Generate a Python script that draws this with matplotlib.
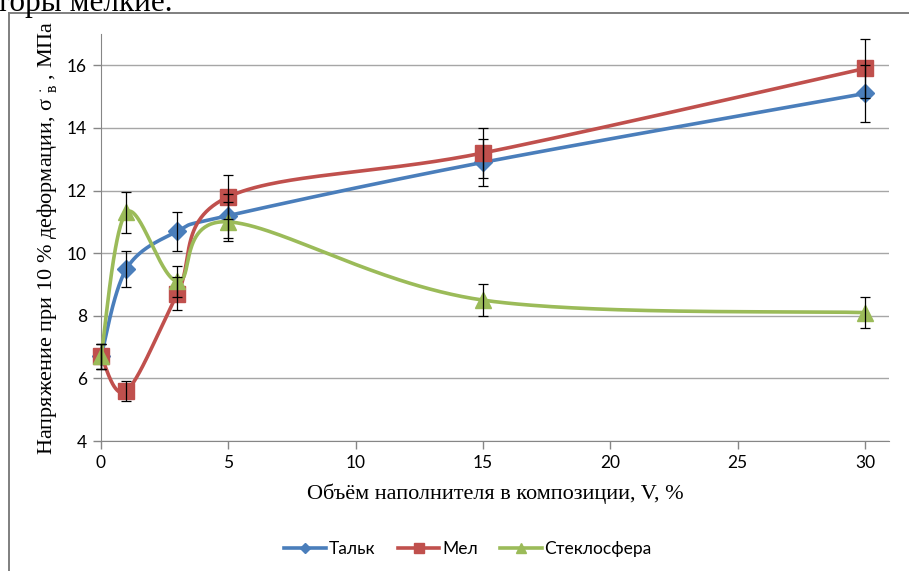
import numpy as np
import matplotlib
matplotlib.use("Agg")
import matplotlib.pyplot as plt
from matplotlib.lines import Line2D

plt.rcParams['mathtext.fontset'] = 'custom'
plt.rcParams['mathtext.rm'] = 'Liberation Serif'
plt.rcParams['mathtext.it'] = 'Liberation Serif'

# Filler content V, % and stress at 10 % strain, MPa
volume = [0, 1, 3, 5, 15, 30]

talc = [6.7, 9.5, 10.7, 11.2, 12.9, 15.1]
talc_err = [0.4, 0.58, 0.63, 0.7, 0.75, 0.9]

chalk = [6.7, 5.6, 8.7, 11.8, 13.2, 15.9]
chalk_err = [0.4, 0.32, 0.53, 0.7, 0.8, 0.95]

glass = [6.7, 11.3, 9.1, 11.0, 8.5, 8.1]
glass_err = [0.4, 0.66, 0.5, 0.62, 0.5, 0.5]

names = ["Тальк", "Мел", "Стеклосфера"]
colors = ["#4A7EBB", "#C0504D", "#9BBB59"]
markers = ["D", "s", "^"]
msizes = [9, 11, 12]

x_ticks = [0, 5, 10, 15, 20, 25, 30]
y_ticks = [4, 6, 8, 10, 12, 14, 16]

W, H = 909, 571
fig = plt.figure(figsize=(W / 100, H / 100), dpi=100)

# page fragment and chart frame
fig.text(-0.004, 1 - 11 / H, "торы мелкие.", fontsize=22.5, family="Liberation Serif",
         ha="left", va="baseline", color="black")
frame_col = "#7f7f7f"
fig.add_artist(Line2D([9 / W, 9 / W], [0, 1 - 13 / H], color=frame_col, lw=1.4,
                      transform=fig.transFigure))
fig.add_artist(Line2D([9 / W, 1], [1 - 13 / H, 1 - 13 / H], color=frame_col, lw=1.4,
                      transform=fig.transFigure))

ax = fig.add_axes([101 / W, 1 - 441 / H, (889 - 101) / W, (441 - 34) / H])
ax.set_xlim(0, 30.94)
ax.set_ylim(4, 17)
fig.canvas.draw()


def smooth(xs, ys, n=60):
    """Excel-style smoothed line: Catmull-Rom Bezier segments in display space."""
    pts = ax.transData.transform(np.column_stack([xs, ys]))
    p = np.vstack([pts[0], pts, pts[-1]])
    out = []
    t = np.linspace(0, 1, n)[:, None]
    for i in range(1, len(p) - 2):
        p0, p1, p2, p3 = p[i - 1], p[i], p[i + 1], p[i + 2]
        c1 = p1 + (p2 - p0) / 6
        c2 = p2 - (p3 - p1) / 6
        seg = ((1 - t) ** 3) * p1 + 3 * ((1 - t) ** 2) * t * c1 + 3 * (1 - t) * t ** 2 * c2 + t ** 3 * p2
        out.append(seg if i == 1 else seg[1:])
    out = np.vstack(out)
    d = ax.transData.inverted().transform(out)
    return d[:, 0], d[:, 1]


series = [(talc, talc_err), (chalk, chalk_err), (glass, glass_err)]
for k, (vals, errs) in enumerate(series):
    sx, sy = smooth(volume, vals)
    ax.plot(sx, sy, color=colors[k], lw=2.6, solid_capstyle="round", zorder=3 + k,
            clip_on=False)
    ax.plot(volume, vals, ls="none", marker=markers[k], ms=msizes[k], color=colors[k],
            mec=colors[k], zorder=3 + k, clip_on=False)
    eb = ax.errorbar(volume, vals, yerr=errs, fmt="none", ecolor="black", elinewidth=0.9,
                     capsize=3.5, capthick=0.9, zorder=10)
    for art in eb.lines[1] + eb.lines[2]:
        art.set_clip_on(False)

# axes styling
ax.set_xticks(x_ticks)
ax.set_yticks(y_ticks)
ax.grid(axis="y", color="#a6a6a6", lw=1)
ax.set_axisbelow(True)
for s in ["top", "right"]:
    ax.spines[s].set_visible(False)
ax.spines["left"].set_color("#868686")
ax.spines["bottom"].set_color("#868686")
ax.spines["left"].set_bounds(4, 17)
ax.tick_params(axis="both", direction="out", length=6, width=1, color="#868686",
               labelsize=12.5, pad=4)
for lab in ax.get_xticklabels() + ax.get_yticklabels():
    lab.set_family("Lato")

ax.set_xlabel("Объём наполнителя в композиции, V, %", fontsize=16,
              family="Liberation Serif", labelpad=9)
ax.set_ylabel("Напряжение при 10 % деформации, σ $^{\\cdot}_{\\mathrm{в}}$ , МПа", fontsize=16,
              family="Liberation Serif", labelpad=6)

handles = [Line2D([], [], color=colors[k], lw=2.6, marker=markers[k], ms=msizes[k] * 0.6,
                  mec=colors[k]) for k in range(3)]
fig.legend(handles, names, loc="center", bbox_to_anchor=(0.515, 1 - 549 / H), ncol=3,
           frameon=False, handlelength=2.4, handletextpad=0.15, columnspacing=1.3,
           prop={"family": "Lato", "size": 12.5})

fig.savefig("out.png", dpi=100)
